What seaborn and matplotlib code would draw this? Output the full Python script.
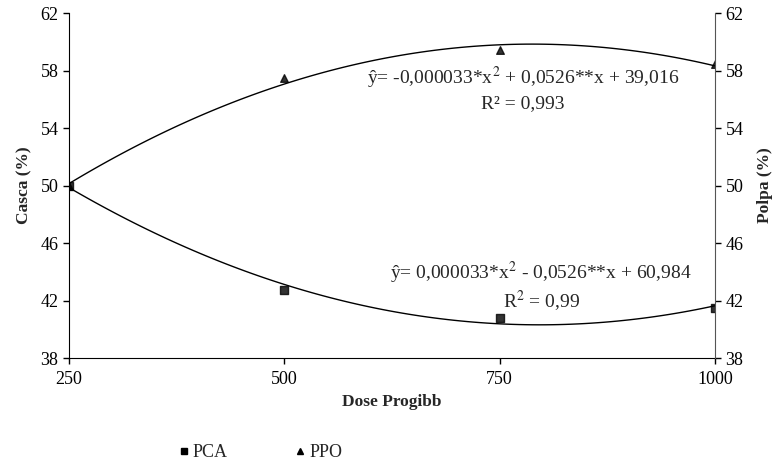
import numpy as np
import pandas as pd
import matplotlib
matplotlib.use("Agg")
import matplotlib.pyplot as plt
import seaborn as sns
from matplotlib.lines import Line2D

dose = [250, 500, 750, 1000]
pca = [50.0, 42.7, 40.8, 41.5]
ppo = [50.0, 57.45, 59.4, 58.45]
yticks = [38, 42, 46, 50, 54, 58, 62]
xticks = [250, 500, 750, 1000]

sns.set_style("ticks")
plt.rcParams['font.family'] = ['Liberation Serif', 'DejaVu Serif']
plt.rcParams['mathtext.fontset'] = 'stix'

df = pd.DataFrame({"dose": dose, "PCA": pca, "PPO": ppo})

fig = plt.figure(figsize=(7.74, 4.65), dpi=100)
ax = fig.add_axes([0.089, 0.230, 0.835, 0.742])

sns.regplot(data=df, x="dose", y="PCA", order=2, ci=None, ax=ax, marker="s",
            scatter_kws=dict(color="black", s=26, zorder=3),
            line_kws=dict(color="black", lw=1.0))
sns.regplot(data=df, x="dose", y="PPO", order=2, ci=None, ax=ax, marker="^",
            scatter_kws=dict(color="black", s=30, zorder=3),
            line_kws=dict(color="black", lw=1.0))

ax.set_xlim(250, 1000)
ax.set_ylim(38, 62)
ax.set_xticks(xticks)
ax.set_yticks(yticks)
ax.tick_params(labelsize=13, direction="out", length=4, width=1, colors="black")
ax.tick_params(axis="x", pad=5)
ax.set_xlabel("Dose Progibb", fontsize=12.5, fontweight="bold", labelpad=5)
ax.set_ylabel("Casca (%)", fontsize=12.5, fontweight="bold", labelpad=6)
ax.spines["top"].set_visible(False)
ax.spines["right"].set_visible(False)
ax.spines["left"].set_color("black")
ax.spines["bottom"].set_color("black")

ax2 = ax.twinx()
ax2.set_ylim(38, 62)
ax2.set_yticks(yticks)
ax2.tick_params(labelsize=13, direction="out", length=4, width=1, colors="black")
ax2.set_ylabel("Polpa (%)", fontsize=12.5, fontweight="bold", labelpad=10)
ax2.spines["top"].set_visible(False)
ax2.spines["left"].set_visible(False)
ax2.spines["bottom"].set_visible(False)
ax2.spines["right"].set_color("#555555")

ax.text(777, 57.45, "ŷ= -0,000033*x$^2$ + 0,0526**x + 39,016", fontsize=14,
        ha="center", va="center")
ax.text(777, 55.7, "R² = 0,993", fontsize=14, ha="center", va="center")
ax.text(798, 43.95, "ŷ= 0,000033*x$^2$ - 0,0526**x + 60,984", fontsize=14,
        ha="center", va="center")
ax.text(798, 42.0, "R$^2$ = 0,99", fontsize=14, ha="center", va="center")

handles = [Line2D([], [], marker="s", color="black", ls="none", markersize=4),
           Line2D([], [], marker="^", color="black", ls="none", markersize=4)]
fig.legend(handles, ["PCA", "PPO"], loc="center", bbox_to_anchor=(0.335, 0.027),
           ncol=2, frameon=False, fontsize=13, columnspacing=3.6, handletextpad=0.1,
           handlelength=0.8)

fig.savefig("out.png", dpi=100)
